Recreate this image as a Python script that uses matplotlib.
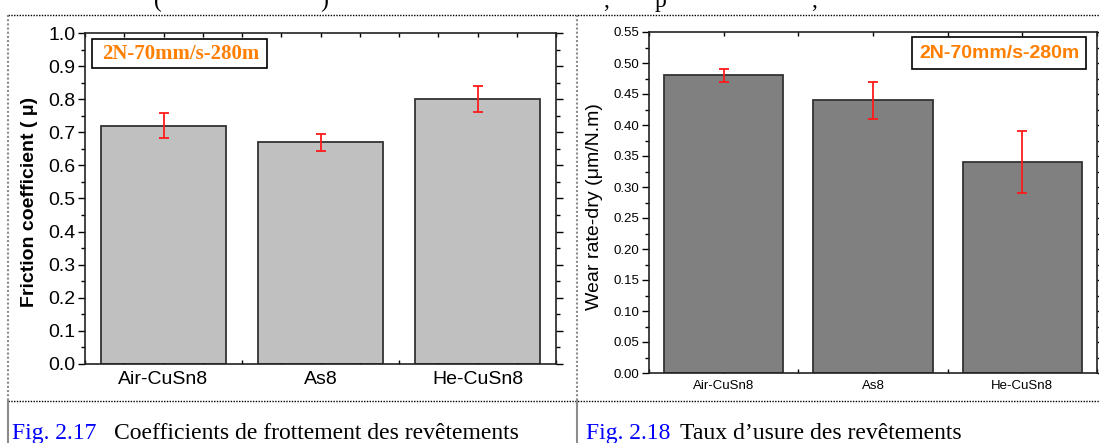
import numpy as np
import matplotlib
matplotlib.use("Agg")
import matplotlib.pyplot as plt
from matplotlib.lines import Line2D
from matplotlib.patches import Rectangle
from matplotlib.ticker import MultipleLocator

# ── data ──────────────────────────────────────────────
coatings = ["Air-CuSn8", "As8", "He-CuSn8"]
friction = [0.72, 0.67, 0.80]
friction_err = [0.037, 0.025, 0.04]
wear = [0.48, 0.44, 0.34]
wear_err = [0.01, 0.03, 0.05]
condition = "2N-70mm/s-280m"
caption_num = ["Fig. 2.17", "Fig. 2.18"]
caption_txt = ["Coefficients de frottement des revêtements",
               "Taux d\u2019usure des revêtements"]

SANS = "Liberation Sans"
SERIF = "Liberation Serif"
ORANGE = "#FF7F00"

W, H = 1099, 443


def fx(px):
    return px / W


def fy(py):
    return 1 - py / H


fig = plt.figure(figsize=(W / 100, H / 100), dpi=100)
fig.patch.set_facecolor("white")

ax1 = fig.add_axes([fx(85), fy(364), (556 - 85) / W, (364 - 33) / H])
ax2 = fig.add_axes([fx(649), fy(373), (1097 - 649) / W, (373 - 32) / H])

x = np.arange(1, len(coatings) + 1)
err_kw = dict(ecolor="#FF1A1A", elinewidth=1.3, capsize=3.5, capthick=1.3)

ax1.bar(x, friction, width=0.8, color="#C0C0C0", edgecolor="#333333",
        linewidth=1.3, yerr=friction_err, error_kw=err_kw, zorder=2)
ax2.bar(x, wear, width=0.8, color="#808080", edgecolor="#333333",
        linewidth=1.3, yerr=wear_err, error_kw=err_kw, zorder=2)


def style(ax, ylim, ymaj, ymin, top_step, fs, fmt):
    ax.set_axisbelow(True)
    ax.set_xlim(0.5, 3.5)
    ax.set_ylim(*ylim)
    ax.set_xticks(x)
    ax.set_xticklabels(coatings, fontsize=fs, family=SANS)
    ax.xaxis.set_minor_locator(MultipleLocator(top_step))
    ax.tick_params(axis="x", which="both", top=True, bottom=True,
                   direction="in", length=3, width=1, pad=5)
    ax.yaxis.set_major_locator(MultipleLocator(ymaj))
    ax.yaxis.set_minor_locator(MultipleLocator(ymin))
    ax.yaxis.set_major_formatter(plt.FormatStrFormatter(fmt))
    ax.tick_params(axis="y", which="both", left=True, right=True,
                   direction="out", width=1, pad=2)
    ax.tick_params(axis="y", which="major", length=5, labelsize=fs)
    ax.tick_params(axis="y", which="minor", length=3)
    for lab in ax.get_yticklabels():
        lab.set_family(SANS)
    for sp in ax.spines.values():
        sp.set_linewidth(1.2)
        sp.set_color("#222222")


style(ax1, (0, 1.0), 0.1, 0.05, 0.25, 14, "%.1f")
style(ax2, (0, 0.55), 0.05, 0.025, 0.5, 9.5, "%.2f")

ax1.set_ylabel("Friction coefficient ( \u03bc)", fontsize=14,
               fontweight="bold", family=SANS)
ax1.yaxis.set_label_coords(-0.1, 0.49)
ax2.set_ylabel("Wear rate-dry (\u03bcm/N.m)", fontsize=14, family=SANS)
ax2.yaxis.set_label_coords(-0.103, 0.487)

# condition boxes
fig.add_artist(Rectangle((fx(92), fy(68)), (267 - 92) / W, (68 - 39.5) / H,
                         transform=fig.transFigure, facecolor="white",
                         edgecolor="black", linewidth=1.2, zorder=5))
fig.text(fx(180.5), fy(54), condition, color=ORANGE, fontsize=15,
         fontweight="bold", family=SERIF, ha="center", va="center", zorder=6)
fig.add_artist(Rectangle((fx(911.5), fy(69)), (1085.5 - 911.5) / W, (69 - 37.5) / H,
                         transform=fig.transFigure, facecolor="white",
                         edgecolor="black", linewidth=1.2, zorder=5))
fig.text(fx(999), fy(53.5), condition, color=ORANGE, fontsize=14,
         fontweight="bold", family=SANS, ha="center", va="center", zorder=6)

# table borders of the document page
dot = (0, (1, 1))
for yy in (15, 401):
    fig.add_artist(Line2D([fx(8), 1], [fy(yy), fy(yy)], color="black",
                          linewidth=1, linestyle=dot))
for xx in (8, 577):
    fig.add_artist(Line2D([fx(xx), fx(xx)], [fy(15), fy(401)], color="#8c8c8c",
                          linewidth=1.5, linestyle=dot))
    fig.add_artist(Line2D([fx(xx), fx(xx)], [fy(401), 0], color="#8c8c8c",
                          linewidth=1.5))

# captions
fig.text(fx(12), fy(439), caption_num[0], color="#0000FF", fontsize=17,
         family=SERIF, va="baseline")
fig.text(fx(114), fy(439), caption_txt[0], color="black", fontsize=17,
         family=SERIF, va="baseline")
fig.text(fx(586), fy(439), caption_num[1], color="#0000FF", fontsize=17,
         family=SERIF, va="baseline")
fig.text(fx(680), fy(439), caption_txt[1], color="black", fontsize=17,
         family=SERIF, va="baseline")

# clipped line of the paragraph above
for px, s in [(154, "("), (320, ")"), (603, ","), (655, "p"), (811, ",")]:
    fig.text(fx(px), fy(7), s, color="black", fontsize=17, family=SERIF,
             va="baseline")

fig.savefig("out.png", dpi=100, facecolor="white")
